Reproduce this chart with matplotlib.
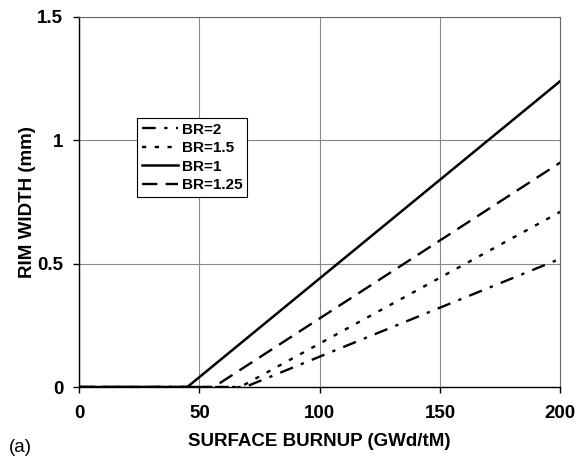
import matplotlib.pyplot as plt

plt.rcParams['font.family'] = ['Liberation Sans', 'DejaVu Sans']

# ── Data (surface burnup GWd/tM vs rim width mm) ──
burnup_br2 = [0, 69, 200]
rim_br2 = [0, 0, 0.52]

burnup_br15 = [0, 67, 200]
rim_br15 = [0, 0, 0.71]

burnup_br1 = [0, 45, 200]
rim_br1 = [0, 0, 1.24]

burnup_br125 = [0, 56, 200]
rim_br125 = [0, 0, 0.91]

labels = ["BR=2", "BR=1.5", "BR=1", "BR=1.25"]

fig = plt.figure(figsize=(5.77, 4.58), dpi=100)
ax = fig.add_axes([0.137, 0.155, 0.834, 0.808])

ax.plot(burnup_br2, rim_br2, color="black", lw=1.7, dashes=(5.8, 3.6, 1.4, 3.6), label=labels[0])
ax.plot(burnup_br15, rim_br15, color="black", lw=1.7, dashes=(1.8, 3.6), label=labels[1])
ax.plot(burnup_br1, rim_br1, color="black", lw=1.8, label=labels[2])
ax.plot(burnup_br125, rim_br125, color="black", lw=1.7, dashes=(6.5, 3.5), label=labels[3])

ax.set_xlim(0, 200)
ax.set_ylim(0, 1.5)
ax.set_xticks([0, 50, 100, 150, 200])
ax.set_xticklabels(["0", "50", "100", "150", "200"])
ax.set_yticks([0, 0.5, 1, 1.5])
ax.set_yticklabels(["0", "0.5", "1", "1.5"])
ax.grid(True, color="#888888", lw=0.8)
ax.set_axisbelow(True)

for s in ("top", "right"):
    ax.spines[s].set_color("#666666")
    ax.spines[s].set_linewidth(0.8)
for s in ("left", "bottom"):
    ax.spines[s].set_linewidth(1.0)

ax.tick_params(direction="out", length=4.3, width=1, labelsize=13.5)
ax.tick_params(axis="x", pad=8.8)
ax.tick_params(axis="y", pad=7)
for t in ax.get_xticklabels() + ax.get_yticklabels():
    t.set_fontweight("bold")

ax.set_xlabel("SURFACE BURNUP (GWd/tM)", fontsize=13.5, fontweight="bold", labelpad=7.5)
ax.set_ylabel("RIM WIDTH (mm)", fontsize=13.5, fontweight="bold", labelpad=1)

fig.text(9 / 577, 1 - 447 / 458, "(a)", fontsize=13.5, va="center")

leg = ax.legend(loc="upper left", bbox_to_anchor=(0.1206, 0.727),
                prop={"weight": "bold", "size": 11}, frameon=True, fancybox=False,
                edgecolor="black", framealpha=1, handlelength=2.4,
                handletextpad=0.25, borderpad=0.3, labelspacing=0.3,
                borderaxespad=0)
leg.get_frame().set_linewidth(0.8)

fig.savefig("out.png", dpi=100)
